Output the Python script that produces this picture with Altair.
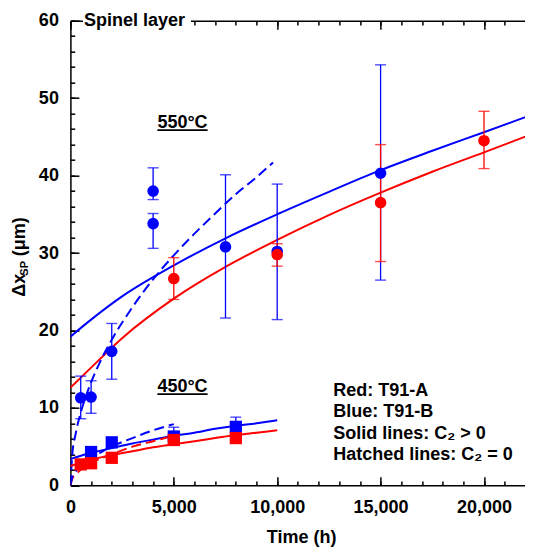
import altair as alt
import pandas as pd

# ---------------- data ----------------
# 550 °C, T91-B (blue circles) with error bars
t_b550 = [500, 1000, 2000, 4000, 4000, 7500, 10000, 15000]
y_b550 = [11.3, 11.4, 17.3, 38.0, 33.8, 30.8, 30.2, 40.3]
lo_b550 = [8.6, 9.3, 13.7, 36.9, 30.6, 21.6, 21.4, 26.5]
hi_b550 = [14.1, 13.5, 20.9, 41.0, 35.1, 40.1, 38.9, 54.3]
# 550 °C, T91-A (red circles) with error bars
t_r550 = [5000, 10000, 15000, 20000]
y_r550 = [26.7, 29.8, 36.5, 44.5]
lo_r550 = [24.0, 28.3, 28.9, 40.9]
hi_r550 = [29.4, 31.2, 44.0, 48.3]
# 450 °C squares
t_r450 = [500, 1000, 2000, 5000, 8000]
y_r450 = [2.7, 2.85, 3.55, 5.85, 6.1]
t_b450 = [1000, 2000, 5000, 8000]
y_b450 = [4.3, 5.55, 6.3, 7.55]
t_b450_err = [5000, 8000]
lo_b450 = [5.3, 6.4]
hi_b450 = [7.5, 8.8]

# model curves (solid: C2 > 0, hatched: C2 = 0)
t_fit550 = [0, 1000, 2500, 5000, 7500, 10000, 12500, 15000, 17500, 20000, 22370]
y_b550_solid = [19.2, 21.4, 24.4, 28.4, 31.9, 35.0, 37.9, 40.7, 43.2, 45.6, 47.9]
y_r550_solid = [12.6, 15.2, 19.0, 24.1, 28.2, 31.7, 34.9, 37.8, 40.5, 43.0, 45.4]
t_b550_dash = [0, 100, 250, 500, 750, 1000, 1500, 2000, 3000, 4000, 5000, 6000, 7000, 8000, 9000, 9800]
y_b550_dash = [0, 4.2, 6.6, 9.4, 11.5, 13.3, 16.3, 18.8, 23.0, 26.6, 29.7, 32.5, 35.1, 37.6, 39.8, 41.7]
t_fit450 = [0, 1000, 2000, 3000, 4000, 5000, 6000, 7000, 8000, 9000, 10000]
y_b450_solid = [3.4, 4.2, 4.8, 5.4, 5.9, 6.4, 6.8, 7.3, 7.7, 8.0, 8.4]
y_r450_solid = [2.5, 3.3, 3.9, 4.4, 4.9, 5.3, 5.7, 6.1, 6.5, 6.8, 7.1]
t_dash450 = [0, 100, 250, 500, 1000, 1500, 2000, 3000, 4000, 5000]
y_b450_dash = [0, 1.1, 1.8, 2.5, 3.5, 4.3, 5.0, 6.1, 7.1, 7.9]
y_r450_dash = [0, 0.9, 1.4, 2.0, 2.9, 3.5, 4.0, 5.0, 5.7, 6.4]

# axis ticks
x_major = [0, 5000, 10000, 15000, 20000]
x_minor = list(range(0, 22001, 1000))
y_major = [0, 10, 20, 30, 40, 50, 60]
y_minor = list(range(0, 61, 2))

# ---------------- style ----------------
RED = "#ff0000"
BLUE = "#0000ff"
FONT = "Liberation Sans"
W, H = 462.6, 464.6
FS = 18

xs = alt.Scale(domain=[0, 22370], nice=False, zero=False)
ys = alt.Scale(domain=[0, 60], nice=False, zero=False)
anchor = pd.DataFrame({"t": [0], "y": [0]})


def enc_x(field="t", axis=None):
    return alt.X(f"{field}:Q", scale=xs, axis=axis)


def enc_y(field="y", axis=None):
    return alt.Y(f"{field}:Q", scale=ys, axis=axis)


base_ax = dict(grid=False, title=None, domainColor="black", tickColor="black",
               domainWidth=1.5, tickWidth=1.5)


def tick_axis(orient, offset, values, size, domain):
    return alt.Axis(orient=orient, offset=offset, values=values, labels=False,
                    ticks=True, tickSize=size, domain=domain, **base_ax)


ax_bottom = alt.Axis(orient="bottom", values=x_major, format=",d", labels=True,
                     labelFont=FONT, labelFontSize=FS, labelFontWeight="bold",
                     labelColor="black", labelPadding=13.4, labelFlush=False,
                     labelOverlap=False, ticks=False, domain=True, **base_ax)
ay_left = alt.Axis(orient="left", values=y_major, labels=True,
                   labelFont=FONT, labelFontSize=FS, labelFontWeight="bold",
                   labelColor="black", labelPadding=12, labelFlush=False,
                   labelOverlap=False, ticks=False, domain=True, **base_ax)

axis_pairs = [
    (ax_bottom, ay_left),
    (tick_axis("top", -H, x_major, 8.5, False), tick_axis("right", -W, y_major, 8.5, False)),
    (tick_axis("top", -H, x_minor, 4.3, False), tick_axis("right", -W, y_minor, 4.3, False)),
    (tick_axis("bottom", -H, x_major, 8.5, True), tick_axis("left", -W, y_major, 8.5, True)),
    (tick_axis("bottom", -H, x_minor, 4.3, False), tick_axis("left", -W, y_minor, 4.3, False)),
]

layers = []
for ax, ay in axis_pairs:
    layers.append(alt.Chart(anchor).mark_point(opacity=0).encode(
        x=enc_x(axis=ax), y=enc_y(axis=ay)))


def line(t, y, color, dash=None):
    df = pd.DataFrame({"t": t, "y": y})
    kw = dict(color=color, strokeWidth=2, clip=True, interpolate="monotone")
    if dash:
        kw["strokeDash"] = dash
    return alt.Chart(df).mark_line(**kw).encode(x=enc_x(), y=enc_y())


DASH = [10, 5]
layers += [
    line(t_fit550, y_r550_solid, RED),
    line(t_fit550, y_b550_solid, BLUE),
    line(t_b550_dash, y_b550_dash, BLUE, DASH),
    line(t_fit450, y_r450_solid, RED),
    line(t_fit450, y_b450_solid, BLUE),
    line(t_dash450, y_r450_dash, RED, DASH),
    line(t_dash450, y_b450_dash, BLUE, DASH),
]


def errbars(t, lo, hi, color):
    df = pd.DataFrame({"t": t, "lo": lo, "hi": hi})
    base = alt.Chart(df)
    rule = base.mark_rule(color=color, strokeWidth=1.3).encode(
        x=enc_x(), y=enc_y("lo"), y2="hi:Q")
    cap_lo = base.mark_tick(color=color, orient="horizontal", size=11, thickness=1.4).encode(
        x=enc_x(), y=enc_y("lo"))
    cap_hi = base.mark_tick(color=color, orient="horizontal", size=11, thickness=1.4).encode(
        x=enc_x(), y=enc_y("hi"))
    return [rule, cap_lo, cap_hi]


layers += errbars(t_b550, lo_b550, hi_b550, BLUE)
layers += errbars(t_r550, lo_r550, hi_r550, RED)
layers += errbars(t_b450_err, lo_b450, hi_b450, BLUE)


def points(t, y, color, shape, size):
    df = pd.DataFrame({"t": t, "y": y})
    return alt.Chart(df).mark_point(shape=shape, filled=True, size=size, color=color,
                                    opacity=1, strokeWidth=0).encode(x=enc_x(), y=enc_y())


layers += [
    points(t_b450, y_b450, BLUE, "square", 150),
    points(t_b550, y_b550, BLUE, "circle", 135),
    points(t_r450, y_r450, RED, "square", 150),
    points(t_r550, y_r550, RED, "circle", 135),
]


def text(s, x, y, size=FS, align="left", angle=0):
    kw = dict(text=s, font=FONT, fontSize=size, fontWeight="bold", color="black",
              align=align, baseline="alphabetic")
    if angle:
        kw["angle"] = angle
    return alt.Chart(anchor).mark_text(**kw).encode(x=alt.value(x), y=alt.value(y))


def hrule(x1, x2, y, width=1.7):
    return alt.Chart(anchor).mark_rule(color="black", strokeWidth=width).encode(
        x=alt.value(x1), x2=alt.value(x2), y=alt.value(y))


# white box behind the panel label (interrupts the top frame line)
layers.append(alt.Chart(anchor).mark_rect(color="white").encode(
    x=alt.value(12.6), x2=alt.value(120.6), y=alt.value(-12), y2=alt.value(9.5)))

layers += [
    text("Spinel layer", 13.6, 5.3),
    text("550°C", 112.1, 107.0, align="center"),
    hrule(87.0, 137.2, 109.4),
    text("450°C", 112.1, 371.0, align="center"),
    hrule(87.0, 137.2, 373.4),
    # notes
    text("Red: T91-A", 262.9, 375.0),
    text("Blue: T91-B", 262.9, 396.4),
    text("Solid lines: C\u2082 > 0", 262.9, 417.8),
    text("Hatched lines: C\u2082 = 0", 262.9, 439.2),
    # axis titles
    text("Time (h)", W / 2, 522.3, align="center"),
    text("\u0394x", -45.0, 276.0, angle=270),
    text("SP", -42.0, 255.0, size=11, angle=270),
    text("(\u03bcm)", -45.0, 235.5, angle=270),
]

chart = alt.layer(*layers).resolve_axis(x="independent", y="independent").properties(
    width=W, height=H,
    autosize=alt.AutoSizeParams(type="none"),
    padding={"left": 62.4, "top": 12.7, "right": -8, "bottom": 61.7},
).configure_view(stroke=None)

chart.save("out.html", embed_options={"renderer": "svg", "actions": False})
